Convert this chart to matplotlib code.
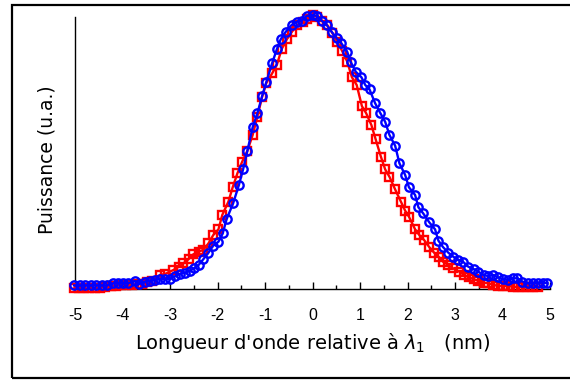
import matplotlib
matplotlib.use("Agg")
import matplotlib.pyplot as plt
from matplotlib.patches import Rectangle
from matplotlib.ticker import MultipleLocator

# Blue series (circles)
blue_x = [-5.02, -4.90, -4.79, -4.67, -4.56, -4.44, -4.33, -4.19, -4.09, -3.98,
          -3.88, -3.74, -3.65, -3.53, -3.42, -3.32, -3.21, -3.11, -3.01, -2.89,
          -2.79, -2.68, -2.58, -2.49, -2.40, -2.30, -2.19, -2.09, -1.98, -1.89,
          -1.81, -1.67, -1.55, -1.46, -1.37, -1.26, -1.16, -1.06, -0.97, -0.85,
          -0.75, -0.67, -0.56, -0.44, -0.33, -0.23, -0.12, 0.00, 0.10, 0.19,
          0.30, 0.40, 0.51, 0.61, 0.73, 0.80, 0.91, 1.03, 1.11, 1.20,
          1.32, 1.43, 1.53, 1.62, 1.74, 1.83, 1.95, 2.03, 2.16, 2.23,
          2.33, 2.46, 2.58, 2.65, 2.75, 2.86, 2.96, 3.07, 3.17, 3.28,
          3.40, 3.49, 3.60, 3.70, 3.81, 3.91, 4.02, 4.12, 4.23, 4.31,
          4.42, 4.54, 4.65, 4.75, 4.86, 4.94]
blue_y = [0.013, 0.013, 0.013, 0.013, 0.013, 0.013, 0.013, 0.021, 0.021, 0.021,
          0.021, 0.029, 0.018, 0.027, 0.029, 0.033, 0.036, 0.036, 0.036, 0.047,
          0.055, 0.059, 0.067, 0.075, 0.087, 0.108, 0.132, 0.158, 0.172, 0.202,
          0.253, 0.312, 0.378, 0.436, 0.503, 0.588, 0.639, 0.702, 0.754, 0.821,
          0.872, 0.908, 0.936, 0.960, 0.972, 0.976, 0.993, 0.996, 0.993, 0.976,
          0.960, 0.936, 0.912, 0.893, 0.863, 0.827, 0.790, 0.770, 0.742, 0.726,
          0.675, 0.639, 0.608, 0.560, 0.521, 0.457, 0.415, 0.370, 0.342, 0.297,
          0.275, 0.242, 0.217, 0.176, 0.152, 0.132, 0.118, 0.105, 0.099, 0.081,
          0.072, 0.063, 0.051, 0.047, 0.051, 0.042, 0.035, 0.033, 0.039, 0.039,
          0.027, 0.021, 0.021, 0.023, 0.023, 0.021]

# Red series (squares)
red_x = [-5.03, -4.92, -4.81, -4.70, -4.58, -4.47, -4.36, -4.25, -4.14, -4.03,
         -3.92, -3.81, -3.70, -3.59, -3.48, -3.37, -3.21, -3.10, -2.93, -2.82,
         -2.72, -2.61, -2.51, -2.40, -2.30, -2.19, -2.09, -1.98, -1.90, -1.77,
         -1.68, -1.58, -1.48, -1.37, -1.26, -1.16, -1.06, -0.97, -0.85, -0.75,
         -0.65, -0.54, -0.43, -0.32, -0.21, -0.11, 0.00, 0.09, 0.20, 0.31,
         0.42, 0.52, 0.62, 0.73, 0.83, 0.93, 1.04, 1.13, 1.24, 1.33,
         1.44, 1.53, 1.62, 1.74, 1.86, 1.95, 2.03, 2.16, 2.25, 2.35,
         2.46, 2.56, 2.67, 2.75, 2.86, 2.96, 3.09, 3.19, 3.30, 3.40,
         3.49, 3.60, 3.70, 3.81, 3.91, 4.02, 4.12, 4.23, 4.33, 4.44,
         4.54, 4.65, 4.75]
red_y = [0.002, 0.002, 0.002, 0.002, 0.003, 0.005, 0.008, 0.010, 0.012, 0.013,
         0.014, 0.015, 0.017, 0.020, 0.025, 0.030, 0.051, 0.055, 0.069, 0.081,
         0.093, 0.108, 0.126, 0.136, 0.142, 0.166, 0.196, 0.217, 0.269, 0.318,
         0.370, 0.421, 0.463, 0.503, 0.560, 0.627, 0.699, 0.750, 0.784, 0.815,
         0.872, 0.908, 0.936, 0.960, 0.972, 0.981, 0.996, 0.990, 0.976, 0.960,
         0.930, 0.899, 0.867, 0.827, 0.770, 0.742, 0.665, 0.639, 0.596, 0.544,
         0.481, 0.435, 0.408, 0.362, 0.318, 0.285, 0.263, 0.217, 0.196, 0.178,
         0.152, 0.132, 0.115, 0.099, 0.087, 0.075, 0.063, 0.051, 0.042, 0.035,
         0.030, 0.023, 0.021, 0.015, 0.011, 0.011, 0.011, 0.008, 0.008, 0.006,
         0.006, 0.008, 0.008]

x_ticks = [-5, -4, -3, -2, -1, 0, 1, 2, 3, 4, 5]
x_label = "Longueur d'onde relative à $\\lambda_1$   (nm)"
y_label = "Puissance (u.a.)"

fig = plt.figure(figsize=(5.7, 3.8), dpi=100)
W, H = 570, 380
ax = fig.add_axes([75 / W, 1 - 289 / H, (550 - 75) / W, (289 - 14) / H])

ax.plot(red_x, red_y, color="#ff0000", lw=1.7, marker="s", ms=6,
        mfc="none", mec="#ff0000", mew=1.7, clip_on=False, zorder=3)
ax.plot(blue_x, blue_y, color="#0000ff", lw=1.7, marker="o", ms=6,
        mfc="none", mec="#0000ff", mew=1.7, clip_on=False, zorder=4)

ax.set_xlim(-5, 5)
ax.set_ylim(0, 1.0)
ax.set_xticks(x_ticks)
ax.set_xticklabels([str(t) for t in x_ticks], fontfamily="Liberation Sans", fontsize=11.5)
ax.xaxis.set_minor_locator(MultipleLocator(0.5))
ax.tick_params(axis="x", which="major", direction="in", length=5, width=1, pad=14)
ax.tick_params(axis="x", which="minor", direction="in", length=3, width=1)
ax.set_yticks([])
for s in ["top", "right"]:
    ax.spines[s].set_visible(False)
ax.spines["left"].set_linewidth(1.0)
ax.spines["bottom"].set_linewidth(1.0)
ax.spines["left"].set_bounds(0, 0.99)

fig.text(313 / W, 1 - 343 / H, x_label, ha="center", va="center",
         fontsize=14, fontfamily="DejaVu Sans")
fig.text(47 / W, 1 - 160 / H, y_label, ha="center", va="center",
         rotation=90, fontsize=13.5, fontfamily="DejaVu Sans")

fig.patches.append(Rectangle((12 / W, 1 - 378 / H), 1.2, (378 - 5) / H,
                             transform=fig.transFigure, fill=False,
                             edgecolor="black", lw=1.6))

fig.savefig("out.png", dpi=100)
